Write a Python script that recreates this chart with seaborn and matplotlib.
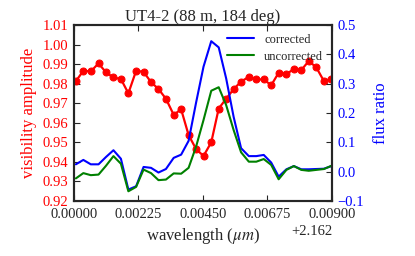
import numpy as np
import pandas as pd
import matplotlib
matplotlib.use("Agg")
import matplotlib.pyplot as plt
import seaborn as sns

# wavelength samples (um)
wavelength = [2.16207, 2.16233, 2.16259, 2.16286, 2.16312, 2.16338, 2.16364,
              2.16390, 2.16417, 2.16443, 2.16469, 2.16495, 2.16521, 2.16548,
              2.16574, 2.16600, 2.16626, 2.16652, 2.16679, 2.16705, 2.16731,
              2.16757, 2.16783, 2.16810, 2.16836, 2.16862, 2.16888, 2.16914,
              2.16941, 2.16967, 2.16993, 2.17019, 2.17045, 2.17072, 2.17098]

vis_amp = [0.9813, 0.9866, 0.9863, 0.9904, 0.9858, 0.9832, 0.9824, 0.9751,
           0.9866, 0.9861, 0.9808, 0.9773, 0.9723, 0.9641, 0.9669, 0.9537,
           0.9466, 0.9430, 0.9500, 0.9673, 0.9723, 0.9772, 0.9811, 0.9835,
           0.9822, 0.9822, 0.9792, 0.9856, 0.9849, 0.9875, 0.9870, 0.9916,
           0.9884, 0.9813, 0.9825]

flux_corrected = [0.025, 0.040, 0.025, 0.025, 0.050, 0.073, 0.044, -0.061,
                  -0.050, 0.016, 0.013, -0.003, 0.009, 0.047, 0.058, 0.105,
                  0.235, 0.358, 0.445, 0.424, 0.318, 0.187, 0.080, 0.053,
                  0.053, 0.057, 0.031, -0.017, 0.008, 0.019, 0.008, 0.008,
                  0.009, 0.010, 0.019]

flux_uncorrected = [-0.023, -0.005, -0.012, -0.010, 0.020, 0.053, 0.027, -0.067,
                    -0.052, 0.007, -0.005, -0.029, -0.027, -0.006, -0.007, 0.013,
                    0.085, 0.176, 0.276, 0.288, 0.227, 0.142, 0.066, 0.034,
                    0.034, 0.043, 0.023, -0.026, 0.006, 0.019, 0.006, 0.003,
                    0.006, 0.009, 0.020]

df = pd.DataFrame({"wl": wavelength, "vis": vis_amp,
                   "corr": flux_corrected, "uncorr": flux_uncorrected})

sns.set_style("ticks")
plt.rcParams["font.family"] = ["Liberation Serif", "DejaVu Serif"]
plt.rcParams["mathtext.fontset"] = "stix"
plt.rcParams["xtick.direction"] = "in"
plt.rcParams["ytick.direction"] = "in"
plt.rcParams["axes.linewidth"] = 1.5

fig, ax = plt.subplots(figsize=(4.15, 2.56), dpi=100)
fig.subplots_adjust(left=0.178, right=0.8, top=0.902, bottom=0.215)

sns.lineplot(data=df, x="wl", y="vis", ax=ax, color="red", marker="o",
             markersize=5, markeredgecolor="red", linewidth=1.6)
ax.set_xlim(2.162, 2.171)
ax.set_ylim(0.92, 1.01)
ax.set_xticks([2.162, 2.16425, 2.1665, 2.16875, 2.171])
ax.set_yticks(np.arange(0.92, 1.0101, 0.01))
ax.ticklabel_format(axis="x", useOffset=2.162)
ax.xaxis.get_offset_text().set_fontsize(10.5)
ax.set_xlabel(r"wavelength ($\mu m$)", fontsize=12, labelpad=4)
ax.set_ylabel("visibility amplitude", color="red", fontsize=12, labelpad=4)
ax.tick_params(axis="y", labelcolor="red", labelsize=10.5, length=4, pad=4)
ax.tick_params(axis="x", labelsize=10.5, top=True, length=4, pad=5)
ax.set_title("UT4-2 (88 m, 184 deg)", fontsize=12, pad=2)

ax2 = ax.twinx()
sns.lineplot(data=df, x="wl", y="corr", ax=ax2, color="blue",
             linewidth=1.5, label="corrected")
sns.lineplot(data=df, x="wl", y="uncorr", ax=ax2, color="green",
             linewidth=1.5, label="uncorrected")
ax2.set_ylim(-0.1, 0.5)
ax2.set_yticks(np.arange(-0.1, 0.501, 0.1))
ax2.set_ylabel("flux ratio", color="blue", fontsize=12, labelpad=6)
ax2.tick_params(axis="y", labelcolor="blue", labelsize=10.5, length=4, pad=4)
ax2.legend(loc="upper right", frameon=False, fontsize=9, handlelength=2.2,
           borderaxespad=0.3, labelspacing=0.4)

fig.savefig("out.png", dpi=100)
